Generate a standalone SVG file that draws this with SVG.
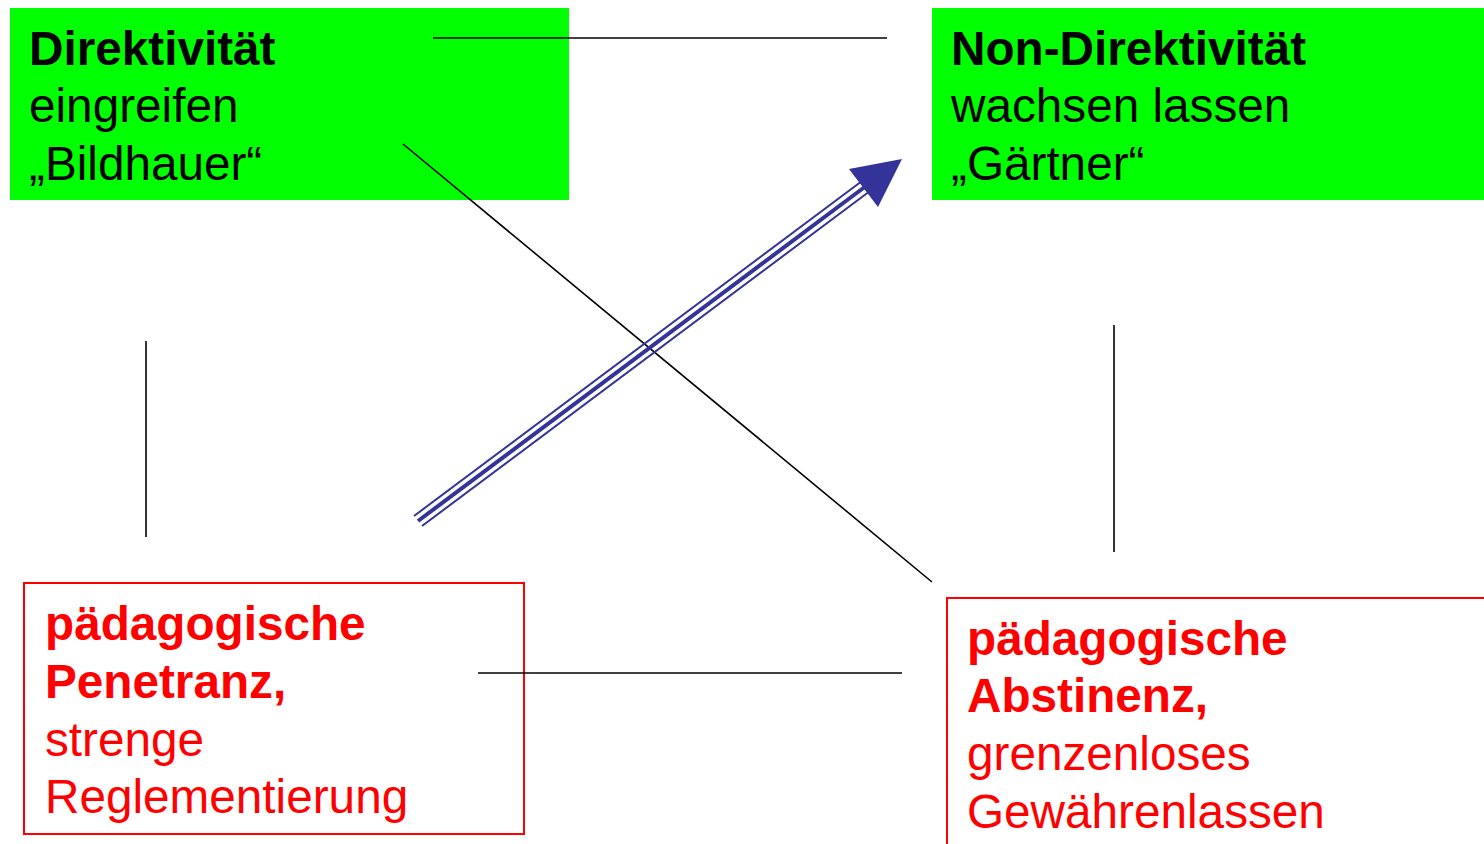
<svg xmlns="http://www.w3.org/2000/svg" width="1484" height="844" viewBox="0 0 1484 844">
<style>
text{font-family:"Liberation Sans",Arial,sans-serif;font-size:47.7px}
.b{font-weight:bold}
.k{fill:#000}
.r{fill:#ff0000}
.ln{stroke:#000;stroke-width:1.6;fill:none}
.ar{stroke:#333399;fill:none}
</style>
<rect width="1484" height="844" fill="#fff"/>
<g id="node-direktivitaet">
<rect x="10" y="8" width="559" height="192" fill="#00ff00"/>
<text class="k b" x="29" y="65">Direktivität</text>
<text class="k" x="29" y="122">eingreifen</text>
<text class="k" x="29" y="180">„Bildhauer“</text>
</g>
<g id="node-non-direktivitaet">
<rect x="932" y="8" width="552" height="192" fill="#00ff00"/>
<text class="k b" x="951" y="65">Non-Direktivität</text>
<text class="k" x="951" y="122">wachsen lassen</text>
<text class="k" x="951" y="180">„Gärtner“</text>
</g>
<g id="node-penetranz">
<rect x="24" y="583" width="500" height="251" fill="none" stroke="#ff0000" stroke-width="2"/>
<text class="r b" x="45" y="640">pädagogische</text>
<text class="r b" x="45" y="698">Penetranz,</text>
<text class="r" x="45" y="756">strenge</text>
<text class="r" x="45" y="813">Reglementierung</text>
</g>
<g id="node-abstinenz">
<rect x="947" y="598" width="560" height="270" fill="none" stroke="#ff0000" stroke-width="2"/>
<text class="r b" x="967" y="655">pädagogische</text>
<text class="r b" x="967" y="712">Abstinenz,</text>
<text class="r" x="967" y="770">grenzenloses</text>
<text class="r" x="967" y="828">Gewährenlassen</text>
</g>
<g id="connectors">
<line class="ln" x1="433" y1="38" x2="887" y2="38"/>
<line class="ln" x1="403" y1="144" x2="932" y2="582"/>
<line class="ln" x1="146" y1="341" x2="146" y2="537"/>
<line class="ln" x1="1114" y1="325" x2="1114" y2="552"/>
<line class="ln" x1="478" y1="673" x2="902" y2="673"/>
<line class="ar" stroke-width="2" x1="414" y1="516" x2="862" y2="181"/>
<line class="ar" stroke-width="4" x1="418" y1="521" x2="866" y2="186"/>
<line class="ar" stroke-width="2" x1="422" y1="526" x2="870" y2="191"/>
<polygon points="902,159 878,207 849,169" fill="#333399"/>
</g>
</svg>
